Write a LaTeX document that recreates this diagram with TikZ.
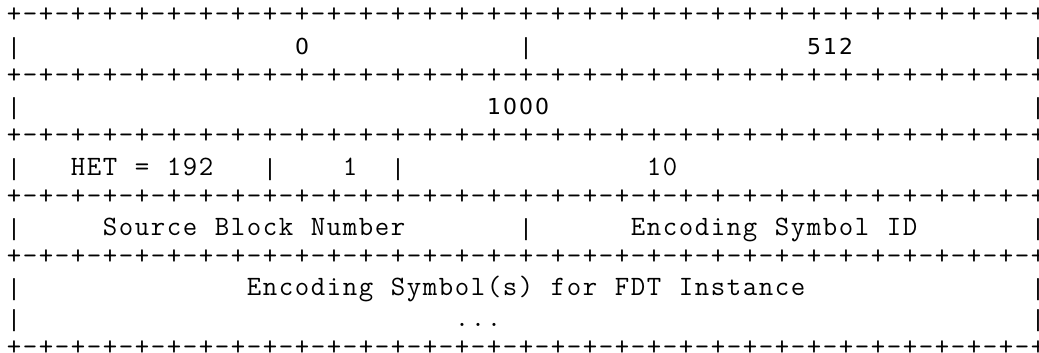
\documentclass[tikz,border=0pt]{standalone}
\usepackage{fontspec}
\newfontfamily\asciisans{DejaVu Sans}
\newcommand\asciisize{\fontsize{28pt}{28pt}\selectfont}
% one character per 16pt cell, spaces kept
\ExplSyntaxOn
\NewDocumentCommand\cells{m}{\str_map_inline:nn{#1}{\makebox[16pt]{##1}}}
\ExplSyntaxOff
\newcommand\borderline{\makebox[16pt]{+}\foreach \k in {1,...,32}{\makebox[16pt]{-}\makebox[16pt]{+}}}

\begin{document}
\begin{tikzpicture}[x=16pt,y=30.2pt,
  bar/.style={font=\asciisans\fontsize{22pt}{22pt}\selectfont, inner sep=0pt, anchor=base, yshift=-8pt},
  field/.style={bar, anchor=base west, xshift=-8pt, font=\ttfamily\asciisize},
  num/.style={field, font=\asciisans\fontsize{22pt}{22pt}\selectfont},
  border/.style={font=\ttfamily\asciisize, inner sep=0pt, anchor=base west, xshift=-8pt, yshift=-7pt}]
\useasboundingbox (-14pt,16pt) rectangle (1025pt,-337pt);

% separator lines
\foreach \r in {0,2,4,6,8,11}
  \node[border] (b\r) at (0,-\r) {\borderline};

% outer bars
\foreach \r in {1,3,5,7,9,10} {
  \node[bar] (l\r) at (0,-\r) {|};
  \node[bar] (r\r) at (64,-\r) {|};
}

% row 1
\node[num] (f0) at (18,-1) {\cells{0}};
\node[bar] (m1) at (32,-1) {|};
\node[num] (f512) at (50,-1) {\cells{512}};

% row 3
\node[num] (f1000) at (30,-3) {\cells{1000}};

% row 5
\node[field] (het) at (4,-5) {\cells{HET = 192}};
\node[bar] (m5a) at (16,-5) {|};
\node[field] (one) at (21,-5) {\cells{1}};
\node[bar] (m5b) at (24,-5) {|};
\node[field] (ten) at (40,-5) {\cells{10}};

% row 7
\node[field] (sbn) at (6,-7) {\cells{Source Block Number}};
\node[bar] (m7) at (32,-7) {|};
\node[field] (esi) at (39,-7) {\cells{Encoding Symbol ID}};

% rows 9-10
\node[field] (sym) at (15,-9) {\cells{Encoding Symbol(s) for FDT Instance}};
\node[field] (more) at (28,-10) {\cells{...}};
\end{tikzpicture}
\end{document}
